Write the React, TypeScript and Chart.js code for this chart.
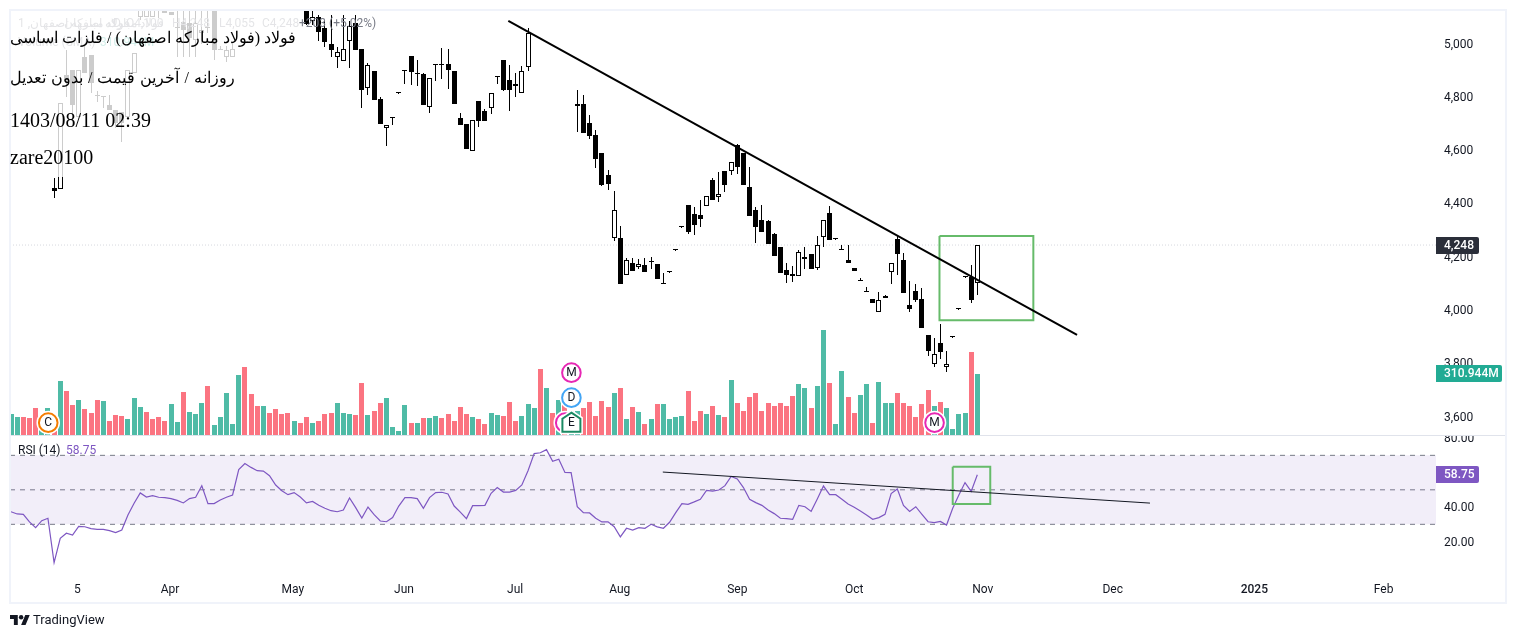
import React, { useEffect, useRef } from "react";
import { Chart, registerables } from "chart.js";

Chart.register(...registerables);

// ---- Daily candles, index 0..157 (null = no candle drawn in the picture)
const opens = [
  5300, 5290, 5280, 5270, 5260, 5240, 5210, 4457, 4453, 4880,
  4901, 4726, 4951, 4957, 4803, 4798, 4769, 4751, 4744, 4726,
  4888, 5100, 5100, 5100, 5126, 5126, 5120, 5060, 5080, 5076,
  5013, 5040, 5060, 5126, 4976, 4950, 4950, 5160, 5190, 5210,
  5230, 5250, 5230, 5220, 5200, 5220, 5210, 5180, 5130, 5086,
  5098, 5057, 4997, 4948, 4936, 5008, 5076, 4978, 4834, 4897,
  4792, 4682, 4719, 4813, 4896, 4953, 4884, 4886, 4761, 4918,
  4918, 4923, 4897, 4721, 4698, 4596, 4784, 4747, 4757, 4873,
  4937, 4862, 4847, 4816, 4911, null, null, null, null, null,
  null, null, 4764, 4772, 4701, 4656, 4588, 4505, 4272, 4269,
  4130, 4176, 4163, 4168, 4180, 4172, 4097, 4142, 4225, 4311,
  4394, 4360, 4357, 4389, 4488, 4425, 4522, 4520, 4618, 4589,
  4462, 4375, 4338, 4334, 4285, 4237, 4150, 4135, 4127, 4190,
  4210, 4159, 4273, 4363, 4265, 4224, 4188, 4158, 4108, 4067,
  4042, 3992, 4053, 4142, 4265, 4188, 4019, 4070, 4042, 3907,
  3797, 3877, 3785, 3898, 4003, 4124, 4125, 4100,
];
const highs = [
  5330, 5310, 5300, 5290, 5280, 5250, 5220, 4494, 4776, 4976,
  4901, 4901, 4990, 4957, 4820, 4798, 4807, 4751, 4744, 4901,
  4963, 5180, 5130, 5130, 5126, 5126, 5120, 5130, 5130, 5130,
  5130, 5130, 5130, 5126, 4990, 4990, 5000, 5200, 5220, 5240,
  5260, 5270, 5250, 5240, 5230, 5240, 5230, 5200, 5130, 5126,
  5107, 5086, 5107, 4988, 5107, 5086, 5107, 4978, 4926, 4897,
  4798, 4693, 4719, 4813, 4896, 4953, 4937, 4889, 4869, 4918,
  4982, 4978, 4897, 4739, 4698, 4712, 4784, 4753, 4813, 4873,
  4937, 4918, 4888, 4916, 5057, null, null, null, null, null,
  null, null, 4826, 4806, 4731, 4674, 4588, 4524, 4445, 4314,
  4194, 4194, 4190, 4194, 4198, 4172, 4138, 4142, 4225, 4311,
  4394, 4387, 4413, 4427, 4494, 4518, 4522, 4554, 4622, 4589,
  4537, 4385, 4394, 4338, 4289, 4237, 4177, 4165, 4224, 4237,
  4210, 4277, 4337, 4390, 4265, 4243, 4243, 4158, 4120, 4087,
  4042, 4068, 4056, 4175, 4279, 4214, 4109, 4098, 4083, 3907,
  3895, 3948, 3846, 3898, 4003, 4124, 4169, 4244,
];
const lows = [
  5280, 5270, 5265, 5250, 5230, 5200, 5170, 4419, 4453, 4801,
  4694, 4726, 4888, 4813, 4780, 4757, 4751, 4682, 4632, 4726,
  4888, 5090, 5100, 5100, 5095, 5113, 5108, 4950, 4950, 4950,
  4950, 5000, 5040, 4940, 4976, 4930, 4950, 5150, 5170, 5200,
  5210, 5220, 5210, 5190, 5180, 5200, 5170, 5150, 5068, 5069,
  5011, 4988, 4951, 4909, 4936, 4909, 4976, 4759, 4807, 4789,
  4699, 4617, 4694, 4813, 4848, 4844, 4841, 4771, 4741, 4859,
  4867, 4831, 4774, 4696, 4606, 4596, 4687, 4711, 4737, 4848,
  4823, 4748, 4801, 4816, 4898, null, null, null, null, null,
  null, null, 4668, 4666, 4643, 4534, 4467, 4450, 4260, 4099,
  4130, 4148, 4153, 4144, 4153, 4118, 4097, 4142, 4225, 4311,
  4287, 4283, 4313, 4389, 4414, 4405, 4443, 4508, 4510, 4470,
  4354, 4252, 4294, 4249, 4204, 4140, 4103, 4107, 4127, 4155,
  4155, 4152, 4238, 4264, 4265, 4224, 4178, 4148, 4108, 4067,
  4028, 3992, 4047, 4099, 4130, 4065, 3994, 4032, 3934, 3829,
  3788, 3818, 3768, 3898, 4003, 4124, 4028, 4055,
];
const closes = [
  5290, 5280, 5270, 5260, 5240, 5210, 5180, 4448, 4776, 4860,
  4769, 4901, 4888, 4851, 4803, 4798, 4751, 4701, 4701, 4901,
  4963, 5170, 5130, 5130, 5126, 5113, 5108, 5060, 5050, 5020,
  5076, 5050, 5060, 4976, 4976, 4976, 4980, 5190, 5210, 5230,
  5250, 5230, 5220, 5200, 5220, 5210, 5180, 5160, 5073, 5098,
  5044, 5007, 4976, 4967, 4978, 5066, 4976, 4827, 4918, 4789,
  4699, 4693, 4719, 4813, 4896, 4894, 4884, 4771, 4869, 4918,
  4918, 4902, 4774, 4696, 4606, 4712, 4711, 4711, 4813, 4873,
  4827, 4827, 4842, 4896, 5038, null, null, null, null, null,
  null, null, 4772, 4666, 4654, 4568, 4469, 4474, 4374, 4099,
  4187, 4148, 4172, 4144, 4180, 4118, 4097, 4142, 4225, 4311,
  4294, 4320, 4343, 4427, 4414, 4434, 4470, 4554, 4538, 4470,
  4354, 4313, 4294, 4249, 4204, 4140, 4133, 4129, 4217, 4198,
  4155, 4243, 4337, 4264, 4265, 4224, 4178, 4148, 4108, 4067,
  4028, 4037, 4047, 4175, 4212, 4065, 4005, 4038, 3934, 3848,
  3834, 3844, 3796, 3898, 4003, 4124, 4039, 4244,
];
// Volume, millions
const volumes = [
  107, 92, 92, 87, 138, 42, 138, 25, 280, 229,
  153, 183, 133, 117, 183, 178, 76, 102, 97, 82,
  189, 143, 122, 82, 92, 76, 158, 71, 224, 122,
  112, 163, 250, 51, 92, 219, 56, 306, 347, 209,
  148, 148, 117, 133, 107, 117, 76, 66, 92, 66,
  76, 107, 117, 163, 117, 112, 102, 265, 102, 127,
  163, 189, 41, 25, 153, 66, 66, 87, 87, 97,
  87, 107, 76, 143, 112, 92, 82, 56, 117, 102,
  97, 173, 76, 97, 158, 138, 341, 240, 117, 183,
  153, 127, 127, 138, 173, 97, 178, 143, 219, 240,
  82, 143, 122, 61, 82, 158, 158, 82, 92, 97,
  229, 76, 127, 107, 148, 102, 92, 285, 163, 127,
  194, 219, 127, 168, 148, 163, 148, 199, 260, 240,
  138, 250, 540, 265, 56, 331, 194, 117, 204, 260,
  66, 275, 168, 168, 214, 168, 148, 92, 158, 234,
  148, 173, 138, 31, 112, 117, 428, 310.944,
];
const volumeColors =
  "GGRRRGGRGR" + "RGRRRGRRRG" + "GGRRRRGGRG" + "GGRGGGGGRR" + "RGRRRRGRRG" + "RRRGGGRRGR" +
  "RGGGGRGRGG" + "RRRRRGRRGG" + "RRRG" + "GGRGRGRGGR" + "RRRRGRGRGR" + "GRGGGGRRRG" +
  "RGRGRRRRRR" + "RRRRGGRGGR" + "GGRRGGRGGG" + "RRRRRRGRGG" + "GGRG";
const rsiValues = [
  37.3, 36.0, 35.8, 31.4, 28.1, 32.1, 33.5, 7.8, 21.9, 24.8,
  23.8, 28.8, 28.6, 27.5, 27.1, 27.1, 26.3, 25.2, 26.7, 35.4,
  42.2, 48.2, 45.8, 46.6, 45.7, 45.5, 44.9, 43.9, 42.4, 44.9,
  45.7, 52.4, 42.0, 42.0, 44.1, 45.7, 47.0, 61.7, 65.2, 63.0,
  61.1, 60.9, 58.2, 52.8, 49.5, 47.2, 48.4, 45.8, 42.4, 43.3,
  41.0, 39.3, 37.9, 37.3, 38.3, 45.3, 39.7, 33.7, 40.0, 35.6,
  31.9, 31.5, 33.9, 40.6, 45.5, 45.5, 44.9, 39.3, 45.5, 48.4,
  48.6, 47.6, 40.6, 37.1, 33.3, 40.8, 40.8, 41.0, 48.0, 51.3,
  48.7, 48.7, 49.7, 52.8, 61.1, 71.0, 71.5, 73.3, 66.5, 67.7,
  60.1, 60.0, 40.2, 36.8, 36.6, 33.5, 31.4, 31.4, 28.6, 22.7,
  27.7, 26.7, 28.1, 27.7, 30.0, 28.5, 27.7, 31.2, 36.8, 42.0,
  41.6, 43.0, 44.5, 49.7, 49.3, 49.9, 52.4, 57.8, 56.3, 51.3,
  44.5, 42.6, 41.0, 38.3, 36.2, 33.5, 33.3, 32.9, 41.0, 40.2,
  37.5, 44.7, 52.2, 47.2, 47.2, 44.5, 41.8, 39.9, 37.7, 35.4,
  32.9, 33.9, 35.8, 47.8, 50.5, 41.0, 37.5, 40.2, 35.8, 31.5,
  31.0, 31.7, 29.6, 39.3, 47.0, 54.2, 49.1, 58.75,
];

// Axis labels
const priceTicks = [3600, 3800, 4000, 4200, 4400, 4600, 4800, 5000];
const rsiTicks = [20, 40, 80];
const timeLabels = ["5", "Apr", "May", "Jun", "Jul", "Aug", "Sep", "Oct", "Nov", "Dec", "2025", "Feb"];
const timeIndex = [10.8, 25.83, 45.8, 63.85, 81.9, 98.9, 118, 137, 157.9, 179, 202, 223];

// Drawings
const priceTrendX = [80.8, 173.2];
const priceTrendY = [5085, 3907];
const rsiTrendX = [105.9, 185.05];
const rsiTrendY = [60.3, 42.3];
const priceBoxX = [150.85, 166.1];
const priceBoxY = [4278, 3962];
const rsiBoxX = [153.0, 159.1];
const rsiBoxY = [63.4, 41.8];
const rsiBands = [70, 50, 30];

// Events above the volume bars
const eventIndex = [6, 90, 91, 91, 91, 150];
const eventLetter = ["C", "M", "E", "D", "M", "M"];
const eventColor = ["#f57c00", "#e727b4", "#1b8a63", "#42a5f5", "#e727b4", "#e727b4"];
const eventRow = [0, 0, 0, 1, 2, 0];

const lastPriceLabel = "4,248";
const lastPriceLevel = 4244;
const lastVolume = 310.944;
const lastRsi = 58.75;

const TICK_FONT = "Roboto, 'Noto Sans', sans-serif";
const INK = "#131722";
const xMin = -0.1625;
const xMax = 231.52;

function roundedBadge(ctx, x, y, w, h, color, text, textColor) {
  ctx.fillStyle = color;
  ctx.beginPath();
  ctx.roundRect(x, y, w, h, [0, 2, 2, 0]);
  ctx.fill();
  ctx.fillStyle = textColor;
  ctx.font = `500 12px ${TICK_FONT}`;
  ctx.textAlign = "left";
  ctx.textBaseline = "middle";
  ctx.fillText(text, x + 8, y + h / 2 + 0.5);
}

function noPadding(scale) {
  scale.paddingTop = 0;
  scale.paddingBottom = 0;
  scale.paddingLeft = 0;
  scale.paddingRight = 0;
}

const tvPlugin = {
  id: "tvPlugin",
  afterDatasetsUpdate(chart) {
    // Pixel-snap every bar so that the candles stay crisp.
    chart.getSortedVisibleDatasetMetas().forEach((meta) => {
      if (meta.type !== "bar") return;
      meta.data.forEach((el) => {
        el.x = Math.round(el.x - 0.5) + 0.5;
        let t = Math.round(el.y);
        let b = Math.round(el.base);
        if (Math.abs(b - t) < 1) b = t + 1;
        el.y = t;
        el.base = b;
        el.height = Math.abs(b - t);
      });
    });
  },
  beforeDraw(chart) {
    // The value labels sit a pixel lower than the canvas' middle baseline.
    [chart.scales.yPrice, chart.scales.yRsi].forEach((scale) => {
      scale.getLabelItems(chart.chartArea).forEach((item) => {
        const t = item.options.translation;
        item.options.translation = [t[0], t[1] + 1];
      });
    });
  },
  afterDraw(chart) {
    const ctx = chart.ctx;
    const { x, yPrice, yVol, yRsi } = chart.scales;
    ctx.save();

    // event badges
    eventIndex.forEach((ix, k) => {
      const cx = x.getPixelForValue(ix) + 0.3;
      const cy = yVol.getPixelForValue(0) - 12.8 - eventRow[k] * 25;
      ctx.beginPath();
      if (eventLetter[k] === "E") {
        const r = 9;
        ctx.moveTo(cx, cy - r - 1);
        ctx.lineTo(cx + r, cy - r + 5);
        ctx.lineTo(cx + r, cy + r);
        ctx.lineTo(cx - r, cy + r);
        ctx.lineTo(cx - r, cy - r + 5);
        ctx.closePath();
      } else {
        ctx.arc(cx, cy, 9.3, 0, Math.PI * 2);
      }
      ctx.fillStyle = "#ffffff";
      ctx.strokeStyle = "#ffffff";
      ctx.lineWidth = 5;
      ctx.stroke();
      ctx.fill();
      ctx.strokeStyle = eventColor[k];
      ctx.lineWidth = 2;
      ctx.stroke();
      ctx.fillStyle = INK;
      ctx.font = `12px ${TICK_FONT}`;
      ctx.textAlign = "center";
      ctx.textBaseline = "middle";
      ctx.fillText(eventLetter[k], cx, cy + 0.5);
    });

    // pane separator; the RSI axis' top label is cut by the pane edge
    ctx.fillStyle = "#ffffff";
    ctx.fillRect(1437, 426, 68, 10);
    ctx.fillStyle = "#e0e3eb";
    ctx.fillRect(10, 435, 1496, 1);

    // indicator legend
    ctx.font = `12px ${TICK_FONT}`;
    ctx.textAlign = "left";
    ctx.textBaseline = "middle";
    ctx.fillStyle = INK;
    ctx.fillText("RSI (14)", 18, 451);
    ctx.fillStyle = "#7e57c2";
    ctx.fillText(lastRsi.toFixed(2), 66, 451);

    // price legend, behind the white veil
    ctx.fillStyle = "#787b86";
    ctx.fillText("1 ,فولاد مبارکه اصفهان", 18, 24);
    ctx.fillText("فولاد مبارکه اصفهان", 64, 24);
    ctx.fillText("D", 113, 24);
    ctx.fillText("O4,100", 126, 24);
    ctx.fillText("H4,248", 172, 24);
    ctx.fillText("L4,055", 219, 24);
    ctx.fillText("C4,248", 262, 24);
    ctx.fillText("Volume (SMA)", 18, 43);
    ctx.fillStyle = "#22ab94";
    ctx.fillText("310.944M", 100, 43);

    // white veil of the caption box
    ctx.fillStyle = "rgba(255,255,255,0.8)";
    ctx.fillRect(0, 0, 299, 177);

    ctx.fillStyle = "#787b86";
    ctx.fillText("+203 (+5.02%)", 299, 24);

    // axis value badges
    const py = Math.round(yPrice.getPixelForValue(lastPriceLevel));
    roundedBadge(ctx, 1436, py - 8, 43, 17, "#2a2e39", lastPriceLabel, "#ffffff");
    const vy = Math.round(yVol.getPixelForValue(lastVolume));
    roundedBadge(ctx, 1436, vy - 9, 66, 17, "#22ab94", `${lastVolume.toFixed(3)}M`, "#ffffff");
    const ry = Math.round(yRsi.getPixelForValue(lastRsi));
    roundedBadge(ctx, 1436, ry - 9, 43, 17, "#7e57c2", lastRsi.toFixed(2), "#ffffff");

    // frame
    ctx.strokeStyle = "#f0f3fa";
    ctx.lineWidth = 2;
    ctx.strokeRect(10, 10, 1496, 593);
    ctx.restore();
  },
};

function buildChart(canvas) {
  const candleIdx = opens.map((o, i) => i).filter((i) => opens[i] !== null);
  const lineBase = {
    type: "line",
    pointRadius: 0,
    pointHoverRadius: 0,
    tension: 0,
    fill: false,
  };
  const boxPath = (xs, ys) => [
    { x: xs[0], y: ys[0] },
    { x: xs[1], y: ys[0] },
    { x: xs[1], y: ys[1] },
    { x: xs[0], y: ys[1] },
    { x: xs[0], y: ys[0] },
  ];

  return new Chart(canvas, {
    type: "bar",
    data: {
      datasets: [
        {
          ...lineBase,
          label: "Price trend",
          yAxisID: "yPrice",
          order: 0,
          data: priceTrendX.map((x, i) => ({ x, y: priceTrendY[i] })),
          borderColor: "#000000",
          borderWidth: 2,
        },
        {
          ...lineBase,
          label: "Price box",
          yAxisID: "yPrice",
          order: 0,
          data: boxPath(priceBoxX, priceBoxY),
          borderColor: "#66bb6a",
          borderWidth: 2,
        },
        {
          label: "Candle body",
          yAxisID: "yPrice",
          order: 1,
          grouped: false,
          barThickness: 5,
          minBarLength: 1,
          borderSkipped: false,
          inflateAmount: 0,
          borderWidth: 1,
          borderColor: "#000000",
          data: candleIdx.map((i) => ({ x: i, y: [opens[i], closes[i]] })),
          backgroundColor: candleIdx.map((i) => (closes[i] > opens[i] ? "#ffffff" : "#000000")),
        },
        {
          label: "Candle wick",
          yAxisID: "yPrice",
          order: 2,
          grouped: false,
          barThickness: 1,
          borderSkipped: false,
          inflateAmount: 0,
          borderWidth: 0,
          data: candleIdx.map((i) => ({ x: i, y: [lows[i], highs[i]] })),
          backgroundColor: "#000000",
        },
        {
          ...lineBase,
          label: "Last price",
          yAxisID: "yPrice",
          order: 3,
          data: [
            { x: xMin, y: lastPriceLevel },
            { x: xMax, y: lastPriceLevel },
          ],
          borderColor: "#d6d8de",
          borderWidth: 1,
          borderDash: [1, 2],
        },
        {
          label: "Volume",
          yAxisID: "yVol",
          order: 5,
          grouped: false,
          barThickness: 5,
          inflateAmount: 0,
          borderWidth: 0,
          data: volumes.map((v, i) => ({ x: i, y: v })),
          backgroundColor: volumes.map((_, i) => (volumeColors[i] === "G" ? "#4fbba6" : "#fb7481")),
        },
        {
          ...lineBase,
          label: "RSI trend",
          yAxisID: "yRsi",
          order: 0,
          data: rsiTrendX.map((x, i) => ({ x, y: rsiTrendY[i] })),
          borderColor: "#131722",
          borderWidth: 1,
        },
        {
          ...lineBase,
          label: "RSI box",
          yAxisID: "yRsi",
          order: 0,
          data: boxPath(rsiBoxX, rsiBoxY),
          borderColor: "#66bb6a",
          borderWidth: 2,
        },
        {
          ...lineBase,
          label: "RSI",
          yAxisID: "yRsi",
          order: 1,
          data: rsiValues.map((y, x) => ({ x, y })),
          borderColor: "#7e57c2",
          borderWidth: 1.2,
        },
        ...rsiBands.map((b, k) => ({
          ...lineBase,
          label: `RSI ${b}`,
          yAxisID: "yRsi",
          order: 4,
          data: [
            { x: xMin, y: b },
            { x: xMax, y: b },
          ],
          borderColor: "#787b86",
          borderWidth: 1,
          borderDash: [5, 5],
          backgroundColor: "rgba(126,87,194,0.1)",
          fill: k === 0 ? { target: { value: rsiBands[2] } } : false,
        })),
      ],
    },
    options: {
      responsive: false,
      animation: false,
      devicePixelRatio: 1,
      events: [],
      layout: { padding: { left: 10, right: 10, top: 10, bottom: 35 } },
      plugins: { legend: { display: false }, tooltip: { enabled: false }, title: { display: false } },
      scales: {
        x: {
          type: "linear",
          min: xMin,
          max: xMax,
          offset: false,
          grid: { display: false, drawTicks: false },
          border: { display: false },
          afterBuildTicks(scale) {
            scale.ticks = timeIndex.map((value) => ({ value }));
          },
          afterFit(scale) {
            scale.height = 31;
            noPadding(scale);
          },
          ticks: {
            autoSkip: false,
            maxRotation: 0,
            padding: 11,
            color: INK,
            font: (c) => ({
              family: TICK_FONT,
              size: 12,
              weight: c.tick && timeLabels[timeIndex.indexOf(c.tick.value)] === "2025" ? "500" : "400",
            }),
            callback: (v) => timeLabels[timeIndex.indexOf(v)],
          },
        },
        yPrice: {
          type: "linear",
          position: "right",
          stack: "panes",
          stackWeight: 425.5,
          min: 3529.5,
          max: 5125.7,
          grid: { display: false, drawTicks: false },
          border: { display: false },
          afterBuildTicks(scale) {
            scale.ticks = priceTicks.map((value) => ({ value }));
          },
          afterFit(scale) {
            scale.width = 70;
            noPadding(scale);
          },
          ticks: {
            padding: 8,
            color: INK,
            font: { family: TICK_FONT, size: 12 },
            callback: (v) => Number(v).toLocaleString("en-US"),
          },
        },
        yRsi: {
          type: "linear",
          position: "right",
          stack: "panes",
          stackWeight: 136.5,
          min: 2.35,
          max: 81.5,
          grid: { display: false, drawTicks: false },
          border: { display: false },
          afterBuildTicks(scale) {
            scale.ticks = rsiTicks.map((value) => ({ value }));
          },
          afterFit(scale) {
            scale.width = 70;
            noPadding(scale);
          },
          ticks: {
            padding: 8,
            color: INK,
            font: { family: TICK_FONT, size: 12 },
            callback: (v) => Number(v).toFixed(2),
          },
        },
        yVol: {
          type: "linear",
          position: "right",
          display: false,
          min: -696,
          max: 2169,
        },
      },
    },
    plugins: [tvPlugin],
  });
}

const caption = {
  position: "absolute",
  left: 10,
  margin: 0,
  color: "#000",
  fontFamily: "'Liberation Serif', 'Times New Roman', serif",
  fontSize: 20,
  lineHeight: "24px",
  whiteSpace: "nowrap",
};

export default function App() {
  const ref = useRef(null);
  useEffect(() => {
    const chart = buildChart(ref.current);
    return () => chart.destroy();
  }, []);
  return (
    <div style={{ position: "absolute", left: 0, top: 0, width: 1516, height: 638, overflow: "hidden", background: "#fff" }}>
      <canvas ref={ref} width={1516} height={638} style={{ position: "absolute", left: 0, top: 0, width: 1516, height: 638, display: "block" }} />
      <div dir="rtl" style={{ ...caption, top: 26, fontSize: 16 }}>فولاد (فولاد مبارکه اصفهان) / فلزات اساسی</div>
      <div dir="rtl" style={{ ...caption, top: 66, fontSize: 16, wordSpacing: 1 }}>روزانه / آخرین قیمت / بدون تعدیل</div>
      <div style={{ ...caption, top: 108 }}>1403/08/11 02:39</div>
      <div style={{ ...caption, top: 145 }}>zare20100</div>
      <svg width="20" height="10" viewBox="0 4 36 18" style={{ position: "absolute", left: 10, top: 615 }}>
        <path fill="#131722" d="M14 22H7V11H0V4h14v18zM28 22h-8l7.5-18h8L28 22z" />
        <circle fill="#131722" cx="20" cy="8" r="4" />
      </svg>
      <div style={{ position: "absolute", left: 33, top: 612, fontFamily: TICK_FONT, fontSize: 13, lineHeight: "16px", color: "#131722" }}>TradingView</div>
    </div>
  );
}
